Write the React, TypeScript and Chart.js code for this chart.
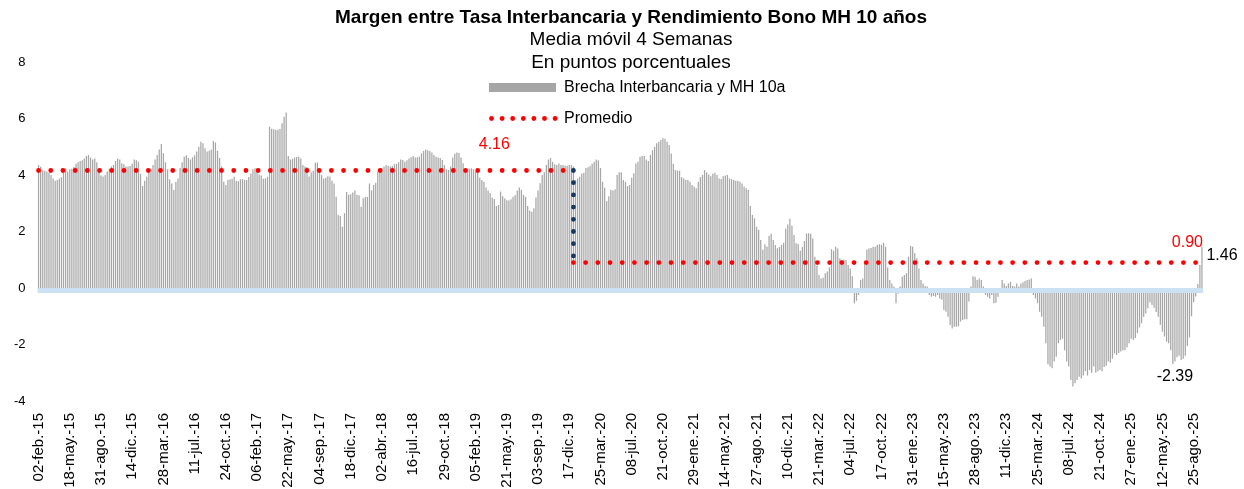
import React, { useEffect, useRef } from 'react';
import { Chart, registerables } from 'chart.js';

Chart.register(...registerables);

const FONT = "'Liberation Sans', Arial, Helvetica, sans-serif";

const TITLE = 'Margen entre Tasa Interbancaria y Rendimiento Bono MH 10 años';
const SUBTITLES = ['Media móvil 4 Semanas', 'En puntos porcentuales'];
const SERIES_NAME = 'Brecha Interbancaria y MH 10a';
const AVG_NAME = 'Promedio';

const TICK_EVERY = 15;
const TICK_LABELS = [
  '02-feb.-15', '18-may.-15', '31-ago.-15', '14-dic.-15', '28-mar.-16', '11-jul.-16',
  '24-oct.-16', '06-feb.-17', '22-may.-17', '04-sep.-17', '18-dic.-17', '02-abr.-18',
  '16-jul.-18', '29-oct.-18', '05-feb.-19', '21-may.-19', '03-sep.-19', '17-dic.-19',
  '25-mar.-20', '08-jul.-20', '21-oct.-20', '29-ene.-21', '14-may.-21', '27-ago.-21',
  '10-dic.-21', '21-mar.-22', '04-jul.-22', '17-oct.-22', '31-ene.-23', '15-may.-23',
  '28-ago.-23', '11-dic.-23', '25-mar.-24', '08-jul.-24', '21-oct.-24', '27-ene.-25',
  '12-may.-25', '25-ago.-25',
];

// Brecha Interbancaria y MH 10a (media móvil 4 semanas), semanal desde 02-feb-15
const BRECHA = [
  4.35, 4.29, 4.17, 4.15, 4.12, 4.08, 4.00, 3.88, 3.80, 3.82,
  3.87, 3.92, 4.15, 4.24, 4.12, 4.20, 4.22, 4.28, 4.40, 4.45,
  4.50, 4.52, 4.58, 4.67, 4.71, 4.62, 4.55, 4.58, 4.45, 4.20,
  3.98, 3.95, 4.00, 4.12, 4.22, 4.30, 4.35, 4.50, 4.58, 4.55,
  4.42, 4.38, 4.30, 4.30, 4.32, 4.40, 4.55, 4.52, 4.47, 4.04,
  3.61, 3.80, 3.94, 4.10, 4.22, 4.35, 4.55, 4.71, 4.90, 5.10,
  4.77, 4.45, 4.20, 3.85, 3.70, 3.47, 3.75, 3.88, 4.25, 4.45,
  4.65, 4.70, 4.60, 4.55, 4.63, 4.70, 4.83, 5.00, 5.18, 5.12,
  4.95, 4.83, 4.86, 4.90, 5.20, 5.15, 4.86, 4.60, 4.30, 3.76,
  3.65, 3.82, 3.85, 3.87, 3.94, 3.80, 3.78, 3.85, 3.86, 3.82,
  3.82, 3.93, 4.05, 4.20, 4.24, 4.22, 4.02, 3.98, 3.87, 3.88,
  3.94, 5.71, 5.64, 5.62, 5.60, 5.60, 5.63, 5.83, 6.06, 6.21,
  4.67, 4.55, 4.57, 4.62, 4.64, 4.65, 4.58, 4.35, 4.30, 4.28,
  3.95, 4.10, 4.15, 4.43, 4.44, 4.15, 4.00, 3.88, 3.90, 3.96,
  3.95, 3.80, 3.70, 3.23, 2.58, 2.55, 2.17, 2.65, 3.40, 3.30,
  3.32, 3.38, 3.45, 3.30, 3.28, 2.88, 3.18, 3.22, 3.22, 3.70,
  3.46, 3.65, 3.72, 4.12, 4.20, 4.25, 4.30, 4.35, 4.32, 4.30,
  4.32, 4.38, 4.40, 4.45, 4.55, 4.53, 4.47, 4.52, 4.58, 4.63,
  4.67, 4.62, 4.63, 4.65, 4.77, 4.85, 4.90, 4.88, 4.85, 4.80,
  4.71, 4.65, 4.62, 4.60, 4.53, 4.35, 4.20, 4.18, 4.30, 4.62,
  4.75, 4.80, 4.78, 4.62, 4.42, 4.20, 4.18, 4.22, 4.24, 4.20,
  4.12, 4.10, 3.90, 3.82, 3.76, 3.56, 3.45, 3.35, 3.20, 3.15,
  2.90, 2.94, 3.42, 3.25, 3.17, 3.11, 3.10, 3.14, 3.23, 3.28,
  3.45, 3.56, 3.47, 3.30, 3.23, 2.90, 2.74, 2.70, 2.82, 3.20,
  3.45, 3.71, 4.00, 4.10, 4.35, 4.55, 4.60, 4.47, 4.38, 4.35,
  4.41, 4.35, 4.35, 4.33, 4.33, 4.35, 4.35, 4.30, 3.82, 3.88,
  3.94, 4.05, 4.08, 4.25, 4.27, 4.32, 4.40, 4.47, 4.55, 4.52,
  4.25, 3.76, 3.55, 3.08, 3.25, 3.47, 3.45, 3.50, 4.00, 4.10,
  4.10, 3.82, 3.76, 3.61, 3.65, 3.90, 4.06, 4.41, 4.47, 4.65,
  4.67, 4.67, 4.55, 4.50, 4.71, 4.88, 5.00, 5.12, 5.18, 5.24,
  5.30, 5.28, 5.18, 5.06, 4.76, 4.40, 4.18, 4.15, 4.15, 3.92,
  3.88, 3.82, 3.82, 3.76, 3.65, 3.59, 3.53, 3.76, 3.92, 4.00,
  4.18, 4.10, 4.02, 3.96, 4.04, 4.08, 4.00, 3.88, 3.86, 3.96,
  3.98, 4.00, 3.88, 3.85, 3.82, 3.80, 3.80, 3.76, 3.70, 3.59,
  3.53, 3.47, 2.90, 2.58, 2.47, 2.17, 2.06, 1.70, 1.35, 1.55,
  1.47, 1.85, 1.92, 1.70, 1.52, 1.41, 1.45, 1.52, 1.60, 2.10,
  2.25, 2.45, 2.20, 1.88, 1.58, 1.56, 1.32, 1.45, 1.66, 1.93,
  1.94, 1.92, 1.75, 1.11, 0.80, 0.46, 0.34, 0.36, 0.52, 0.58,
  0.73, 1.37, 1.32, 1.46, 1.40, 1.05, 1.00, 1.01, 0.99, 0.81,
  0.69, 0.42, -0.54, -0.45, -0.25, 0.28, 0.34, 0.90, 1.35, 1.40,
  1.42, 1.46, 1.46, 1.52, 1.55, 1.53, 1.60, 1.46, 0.73, 0.28,
  0.16, 0.05, -0.54, -0.20, 0.05, 0.40, 0.46, 0.52, 1.11, 1.49,
  1.46, 1.23, 1.05, 0.69, 0.28, 0.16, 0.07, 0.05, -0.25, -0.31,
  -0.28, -0.31, -0.25, -0.37, -0.42, -0.78, -0.84, -1.02, -1.31, -1.43,
  -1.37, -1.37, -1.35, -1.19, -1.13, -1.11, -1.11, -0.48, 0.05, 0.42,
  0.40, 0.28, 0.34, 0.28, 0.05, -0.25, -0.31, -0.37, -0.25, -0.54,
  -0.52, -0.31, -0.05, 0.28, 0.16, 0.07, 0.16, 0.22, 0.07, 0.05,
  0.16, 0.05, 0.16, 0.20, 0.25, 0.28, 0.30, 0.34, -0.25, -0.37,
  -0.54, -0.84, -1.02, -1.37, -1.96, -2.70, -2.78, -2.84, -2.60, -2.43,
  -1.96, -1.84, -1.80, -2.20, -2.60, -2.78, -3.26, -3.49, -3.37, -3.26,
  -3.14, -3.20, -3.10, -2.95, -3.10, -2.90, -3.00, -2.78, -3.00, -2.95,
  -2.90, -2.95, -2.80, -2.75, -2.60, -2.65, -2.50, -2.32, -2.37, -2.30,
  -2.25, -2.20, -2.20, -2.10, -1.96, -1.80, -1.84, -1.78, -1.60, -1.40,
  -1.25, -1.02, -0.90, -0.72, -0.50, -0.60, -0.70, -0.85, -1.02, -1.30,
  -1.55, -1.72, -1.90, -1.96, -2.20, -2.69, -2.60, -2.45, -2.40, -2.55,
  -2.50, -2.40, -2.05, -1.75, -1.00, -0.50, -0.30, 0.14, 0.81, 1.46,
];

// Promedio: antes y después del corte (17-dic-19)
const PROMEDIO = [4.16, 0.9];
const PROMEDIO_BREAK = 257;

// Etiquetas de datos
const ANNOT_TEXTS = ['4.16', '0.90', '1.46', '-2.39'];
const ANNOT_INDEX = [219, 552, 559, 546];
const ANNOT_VALUES = [4.16, 0.9, 1.46, -2.39];

const MESES = ['ene', 'feb', 'mar', 'abr', 'may', 'jun', 'jul', 'ago', 'sep', 'oct', 'nov', 'dic'];
const CATEGORIES = BRECHA.map((_, i) => {
  const d = new Date(2015, 1, 2 + 7 * i);
  return `${String(d.getDate()).padStart(2, '0')}-${MESES[d.getMonth()]}.-${String(d.getFullYear()).slice(2)}`;
});

const RED = '#FF0000';
const NAVY = '#17375E';
const BAR_GRAY = '#A6A6A6';
const BAND = '#CCE2F4';

const decorPlugin = {
  id: 'decor',
  afterDatasetsDraw(chart: any) {
    const { ctx, chartArea, scales } = chart;
    const y0 = scales.y.getPixelForValue(0);
    ctx.save();
    ctx.fillStyle = BAND;
    ctx.fillRect(chartArea.left, y0, chartArea.right - chartArea.left, 5);
    ctx.restore();
  },
  afterDraw(chart: any) {
    const { ctx, scales } = chart;
    ctx.save();
    ctx.fillStyle = '#000';
    ctx.textAlign = 'center';
    ctx.textBaseline = 'middle';
    ctx.font = `bold 19px ${FONT}`;
    ctx.fillText(TITLE, 631, 17.5);
    ctx.font = `19px ${FONT}`;
    ctx.fillText(SUBTITLES[0], 631, 40);
    ctx.fillText(SUBTITLES[1], 631, 62.5);

    // legend
    ctx.fillStyle = BAR_GRAY;
    ctx.fillRect(489, 83, 67, 9);
    ctx.fillStyle = RED;
    for (let k = 0; k < 7; k++) {
      ctx.beginPath();
      ctx.arc(491.5 + k * 10.6, 118.5, 2.4, 0, Math.PI * 2);
      ctx.fill();
    }
    ctx.fillStyle = '#000';
    ctx.textAlign = 'left';
    ctx.font = `16px ${FONT}`;
    ctx.fillText(SERIES_NAME, 564, 87.5);
    ctx.fillText(AVG_NAME, 564, 118.5);

    // data labels
    ctx.textAlign = 'center';
    const offsets = [[0, -26], [0, -20], [20, 9], [0, 21]];
    const colors = [RED, RED, '#000', '#000'];
    ANNOT_TEXTS.forEach((t, k) => {
      const x = scales.x.getPixelForValue(ANNOT_INDEX[k]) + offsets[k][0];
      const y = scales.y.getPixelForValue(ANNOT_VALUES[k]) + offsets[k][1];
      ctx.fillStyle = colors[k];
      ctx.fillText(t, x, y);
    });
    ctx.restore();
  },
};

const dotted = {
  borderWidth: 4.8,
  borderDash: [0, 12.2],
  borderCapStyle: 'round',
  pointRadius: 0,
  fill: false,
  tension: 0,
};

export default function App() {
  const ref = useRef<HTMLCanvasElement>(null);
  useEffect(() => {
    const canvas = ref.current;
    if (!canvas) return;
    const last = CATEGORIES.length - 1;
    const chart = new Chart(canvas, {
      type: 'bar',
      data: {
        labels: CATEGORIES,
        datasets: [
          {
            type: 'line',
            label: AVG_NAME,
            data: [
              { x: CATEGORIES[0], y: PROMEDIO[0] },
              { x: CATEGORIES[PROMEDIO_BREAK], y: PROMEDIO[0] },
            ],
            borderColor: RED,
            order: 1,
            ...dotted,
          } as any,
          {
            type: 'line',
            label: AVG_NAME,
            data: [
              { x: CATEGORIES[PROMEDIO_BREAK], y: PROMEDIO[1] },
              { x: CATEGORIES[last], y: PROMEDIO[1] },
            ],
            borderColor: RED,
            order: 1,
            ...dotted,
          } as any,
          {
            type: 'line',
            label: 'Cambio',
            data: [
              { x: CATEGORIES[PROMEDIO_BREAK], y: PROMEDIO[0] },
              { x: CATEGORIES[PROMEDIO_BREAK], y: PROMEDIO[1] },
            ],
            borderColor: NAVY,
            order: 0,
            ...dotted,
          } as any,
          {
            type: 'bar',
            label: SERIES_NAME,
            data: BRECHA,
            backgroundColor: BAR_GRAY,
            borderWidth: 0,
            barPercentage: 1,
            categoryPercentage: 0.6,
            order: 2,
          } as any,
        ],
      },
      options: {
        responsive: false,
        animation: false,
        devicePixelRatio: 1,
        events: [],
        layout: { padding: { top: 62, right: 41, bottom: 0, left: 0 } },
        plugins: {
          legend: { display: false },
          tooltip: { enabled: false },
          title: { display: false },
        },
        scales: {
          x: {
            type: 'category',
            offset: true,
            grid: { display: false, drawTicks: false },
            border: { display: false },
            ticks: {
              autoSkip: false,
              maxRotation: 90,
              minRotation: 90,
              padding: 12,
              color: '#000',
              font: { family: FONT, size: 15 },
              callback: (_v: any, i: number) =>
                i % TICK_EVERY === 0 ? TICK_LABELS[i / TICK_EVERY] : null,
            },
            afterFit: (s: any) => {
              s.height = 88;
            },
          },
          y: {
            min: -4,
            max: 8,
            grid: { display: false, drawTicks: false },
            border: { display: false },
            ticks: {
              stepSize: 2,
              padding: 12,
              color: '#000',
              font: { family: FONT, size: 13 },
            },
            afterFit: (s: any) => {
              s.width = 37.5;
            },
          },
        },
      } as any,
      plugins: [decorPlugin],
    });
    return () => chart.destroy();
  }, []);
  return (
    <div style={{ position: 'fixed', left: 0, top: 0, width: 1244, height: 489, background: '#fff' }}>
      <canvas ref={ref} width={1244} height={489} style={{ display: 'block' }} />
    </div>
  );
}
